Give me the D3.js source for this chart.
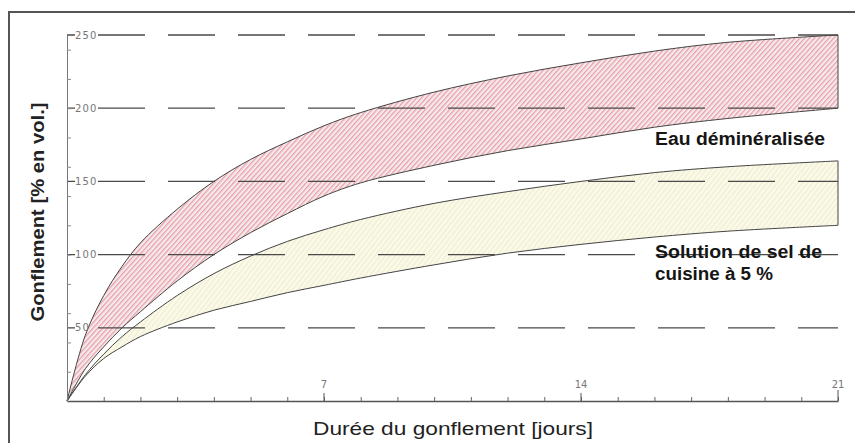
<!DOCTYPE html>
<html>
<head>
<meta charset="utf-8">
<script src="https://cdn.jsdelivr.net/npm/d3@7"></script>
<style>
  body { margin: 0; background: #fff; }
  svg { display: block; }
</style>
</head>
<body>
<div id="chart"></div>
<script>
// days of swelling and the four band edges (% vol.)
var days = [0, 0.5, 1, 1.5, 2, 3, 4, 5, 6, 7, 8, 10, 12, 14, 16, 18, 21];
var eauHaut = [0, 45, 72, 92, 108, 131, 150, 165, 177, 188, 197, 211, 222, 231, 239, 245, 250];
var eauBas = [0, 22, 37, 50, 61, 82, 100, 115, 128, 140, 149, 161, 171, 179, 187, 193, 200];
var selHaut = [0, 18, 32, 44, 54, 72, 87, 99, 109, 117, 124, 135, 143, 150, 156, 160, 164];
var selBas = [0, 17, 29, 37, 44, 54, 62, 68, 74, 79, 84, 93, 101, 107, 112, 116, 120];

var yLabels = [50, 100, 150, 200, 250];
var yMinor = [20, 40, 60, 80, 100, 120, 140, 160, 180, 200, 220, 240];
var xLabels = [7, 14, 21];

var W = 859, H = 443;
var svg = d3.select("#chart").append("svg").attr("width", W).attr("height", H);

var x = d3.scaleLinear().domain([0, 21]).range([67, 838]);
var y = d3.scaleLinear().domain([0, 250]).range([401, 35]);

// frame (only top and left show)
svg.append("path")
    .attr("d", "M9,443 L9,12 L855,12")
    .attr("fill", "none").attr("stroke", "#555").attr("stroke-width", 2);

var defs = svg.append("defs");
var pr = defs.append("pattern").attr("id", "hRouge")
    .attr("patternUnits", "userSpaceOnUse").attr("width", 3.6).attr("height", 10)
    .attr("patternTransform", "rotate(42)");
pr.append("rect").attr("width", 3.6).attr("height", 10).attr("fill", "#fdf5f6");
pr.append("line").attr("x1", 0.7).attr("x2", 0.7).attr("y1", 0).attr("y2", 10)
    .attr("stroke", "#e68a97").attr("stroke-width", 1.1);
pr.append("line").attr("x1", 2.5).attr("x2", 2.5).attr("y1", 0).attr("y2", 10)
    .attr("stroke", "#d6d0d2").attr("stroke-width", 0.5);

var py = defs.append("pattern").attr("id", "hJaune")
    .attr("patternUnits", "userSpaceOnUse").attr("width", 4).attr("height", 10)
    .attr("patternTransform", "rotate(38)");
py.append("rect").attr("width", 4).attr("height", 10).attr("fill", "#fcfbe6");
py.append("line").attr("x1", 1).attr("x2", 1).attr("y1", 0).attr("y2", 10)
    .attr("stroke", "#dedbcb").attr("stroke-width", 0.6);

function band(hi, lo) {
    return days.map(function(d, i) { return {d: d, hi: hi[i], lo: lo[i]}; });
}

var area = d3.area()
    .x(function(p) { return x(p.d); })
    .y0(function(p) { return y(p.lo); })
    .y1(function(p) { return y(p.hi); })
    .curve(d3.curveCatmullRom.alpha(0.5));

svg.append("path").datum(band(eauHaut, eauBas))
    .attr("d", area).attr("fill", "url(#hRouge)")
    .attr("stroke", "#444").attr("stroke-width", 1);
svg.append("path").datum(band(selHaut, selBas))
    .attr("d", area).attr("fill", "url(#hJaune)")
    .attr("stroke", "#444").attr("stroke-width", 1);

// dashed grid lines, start at the axis (the first bit acts as the tick)
svg.selectAll(".grid").data(yLabels).enter().append("line")
    .attr("class", "grid")
    .attr("x1", x(0)).attr("x2", x(21))
    .attr("y1", function(d) { return y(d); }).attr("y2", function(d) { return y(d); })
    .attr("stroke", "#4a4a4a").attr("stroke-width", 1.3)
    .attr("stroke-dasharray", "47,23").attr("stroke-dashoffset", 39);

// y axis
var yAxis = svg.append("g").attr("transform", "translate(" + x(0) + ",0)")
    .call(d3.axisLeft(y).tickValues(yMinor).tickSizeInner(-4).tickSizeOuter(0).tickFormat(""));
yAxis.select(".domain").attr("stroke", "#777");
yAxis.selectAll(".tick line").attr("stroke", "#888");

svg.selectAll(".ylab").data(yLabels).enter().append("text")
    .attr("class", "ylab")
    .attr("x", 75).attr("y", function(d) { return y(d) + 3.5; })
    .attr("font-family", "DejaVu Sans").attr("font-size", 10)
    .attr("letter-spacing", 1.2).attr("fill", "#777")
    .text(function(d) { return d; });

// x axis
var xAxis = svg.append("g").attr("transform", "translate(0," + y(0) + ")")
    .call(d3.axisBottom(x).tickValues(d3.range(1, 22)).tickSizeInner(-4).tickSizeOuter(0).tickFormat(""));
xAxis.select(".domain").attr("stroke", "#555").attr("stroke-width", 1.4);
xAxis.selectAll(".tick line").attr("stroke", "#666");

svg.selectAll(".xmaj").data(xLabels).enter().append("line")
    .attr("x1", function(d) { return x(d); }).attr("x2", function(d) { return x(d); })
    .attr("y1", y(0)).attr("y2", function(d) { return d === 21 ? y(0) - 11 : y(0) - 8; })
    .attr("stroke", "#555");
svg.selectAll(".xlab").data(xLabels).enter().append("text")
    .attr("x", function(d) { return x(d); }).attr("y", 388)
    .attr("text-anchor", "middle")
    .attr("font-family", "DejaVu Sans").attr("font-size", 10).attr("fill", "#777")
    .text(function(d) { return d; });

// titles
svg.append("text")
    .attr("x", 453).attr("y", 435).attr("text-anchor", "middle")
    .attr("font-family", "Liberation Sans, Arial, sans-serif").attr("font-size", 19)
    .attr("fill", "#222")
    .attr("textLength", 280).attr("lengthAdjust", "spacingAndGlyphs")
    .text("Durée du gonflement [jours]");

svg.append("text")
    .attr("transform", "translate(44,212) rotate(-90)").attr("text-anchor", "middle")
    .attr("font-family", "Liberation Sans, Arial, sans-serif").attr("font-size", 19)
    .attr("font-weight", "bold").attr("fill", "#222")
    .attr("textLength", 219).attr("lengthAdjust", "spacingAndGlyphs")
    .text("Gonflement [% en vol.]");

// band labels
var lab = svg.append("g")
    .attr("font-family", "Liberation Sans, Arial, sans-serif").attr("font-size", 18)
    .attr("font-weight", "bold").attr("fill", "#151515");
lab.append("text").attr("x", 655).attr("y", 145)
    .attr("textLength", 170).attr("lengthAdjust", "spacingAndGlyphs")
    .text("Eau déminéralisée");
lab.append("text").attr("x", 655).attr("y", 258)
    .attr("textLength", 167).attr("lengthAdjust", "spacingAndGlyphs")
    .text("Solution de sel de");
lab.append("text").attr("x", 655).attr("y", 280)
    .attr("textLength", 118).attr("lengthAdjust", "spacingAndGlyphs")
    .text("cuisine à 5 %");
</script>
</body>
</html>
